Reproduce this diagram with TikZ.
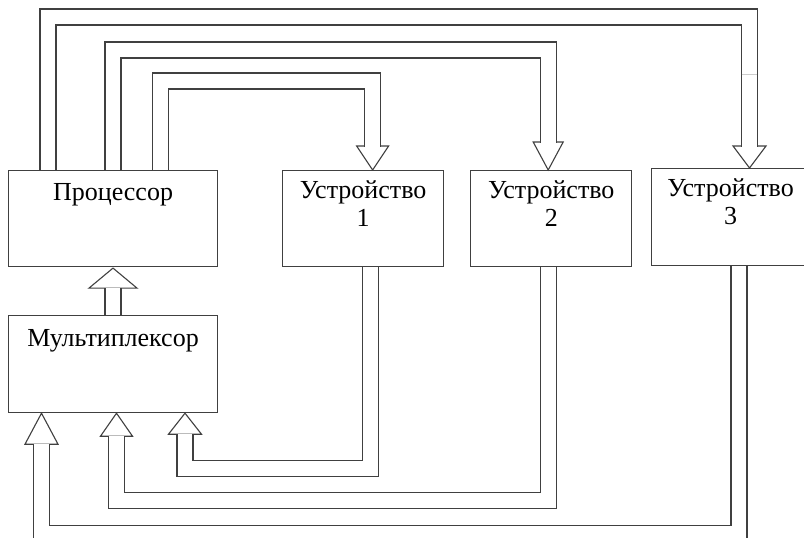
\documentclass[tikz,border=0pt]{standalone}
\usepackage{fontspec}
\setmainfont{Liberation Serif}
\usepackage{tikz}
\usetikzlibrary{positioning,calc}

\tikzset{
  blok/.style={draw=black!75, line width=1.1pt, rectangle, inner sep=0pt,
    align=center, font=\fontsize{26}{28}\selectfont, text height=56pt},
  bus/.style={draw=black!75, line width=1.1pt, double=white,
    double distance=14.9pt, shorten >=-0.55pt},
  pics/kopf/.style 2 args={code={
    \draw[draw=black!75, fill=white, line width=1.1pt]
      (-#2,0) -- (0,#1) -- (#2,0) -- cycle;}}
}

\begin{document}
\begin{tikzpicture}[x=1pt, y=-1pt, node distance=48pt and 64pt]
\useasboundingbox (0,0) rectangle (804,538);

\node[blok, anchor=north west, minimum width=209pt, text height=30pt, text depth=66pt]
  (proc) at (8,170) {Процессор};
\node[blok, right=64pt of proc, minimum width=161pt, text depth=40pt] (dev1) {Устройство\\1};
\node[blok, right=26pt of dev1, minimum width=161pt, text depth=40pt] (dev2) {Устройство\\2};
\node[blok, anchor=north west, minimum width=158pt, text height=56pt, text depth=41pt]
  (dev3) at (651,168) {Устройство\\3};
\node[blok, below=48pt of proc, minimum width=209pt, text height=31pt, text depth=66pt]
  (mux) {Мультиплексор};

% heads
\coordinate (k1) at ([xshift=90.5pt, yshift=24pt]dev1.north west);
\coordinate (k2) at ([xshift=78pt, yshift=28pt]dev2.north west);
\coordinate (k3) at ([xshift=98.5pt, yshift=22pt]dev3.north west);
\coordinate (m0) at ([xshift=105pt, yshift=27pt]mux.north west);
\coordinate (m1) at ([xshift=177pt, yshift=-21pt]mux.south west);
\coordinate (m2) at ([xshift=108.5pt, yshift=-23pt]mux.south west);
\coordinate (m3) at ([xshift=33.5pt, yshift=-31pt]mux.south west);

\pic at (k1) {kopf={24}{16}};
\pic at (k2) {kopf={28}{15}};
\pic at (k3) {kopf={22}{16.5}};
\pic[rotate=180] at (m0) {kopf={20}{24}};
\pic[rotate=180] at (m1) {kopf={21}{16.5}};
\pic[rotate=180] at (m2) {kopf={23}{16}};
\pic[rotate=180] at (m3) {kopf={31}{16.5}};

% processor -> devices
\draw[bus] ([xshift=40pt]proc.north west) |- ([yshift=129pt]k3) -- (k3);
\draw[bus] ([xshift=105pt]proc.north west) |- ([yshift=92pt]k2) -- (k2);
\draw[bus] ([xshift=152.5pt]proc.north west) |- ([yshift=65pt]k1) -- (k1);
\draw[black!20, line width=1pt] (741.6,74) -- (757.4,74);

% multiplexor -> processor
\draw[bus] ([xshift=105pt]mux.north west) -- (m0);

% devices -> multiplexor
\draw[bus] ([xshift=88.5pt]dev1.south west) |- ([yshift=-34pt]m1) -- (m1);
\draw[bus] ([xshift=78pt]dev2.south west) |- ([yshift=-64.5pt]m2) -- (m2);
\draw[bus] ([xshift=88pt]dev3.south west) |- ([yshift=-89pt]m3) -- (m3);

\end{tikzpicture}
\end{document}
